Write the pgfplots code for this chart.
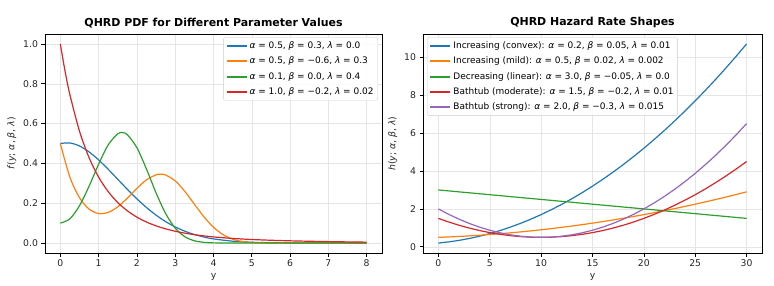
\documentclass[border=0pt]{standalone}
\usepackage{fontspec}
\setmainfont{DejaVu Sans}
\usepackage{pgfplots}
\pgfplotsset{compat=1.18}
\definecolor{C0}{HTML}{1F77B4}
\definecolor{C1}{HTML}{FF7F0E}
\definecolor{C2}{HTML}{2CA02C}
\definecolor{C3}{HTML}{D62728}
\definecolor{C4}{HTML}{9467BD}
\pgfplotsset{mystyle/.style={
  scale only axis,
  height=219bp,
  axis line style={line width=0.9bp, black},
  grid=major,
  grid style={line width=0.5bp, color=black!10},
  tick style={black, line width=0.7bp},
  tick align=outside,
  major tick length=3.5bp,
  xtick pos=left, ytick pos=left,
  ticklabel style={font=\fontsize{9.3}{11}\selectfont, text=black!85},
  /pgf/number format/assume math mode=true,
  label style={font=\fontsize{9.3}{11}\selectfont, text=black!85},
  title style={font=\bfseries\fontsize{11}{13}\selectfont, yshift=-3.5bp},
  legend cell align=left,
  legend style={font=\fontsize{9}{11}\selectfont, draw=black!20, rounded corners=2bp,
    fill=white, fill opacity=0.85, text opacity=1, draw opacity=1, inner sep=2.2bp, row sep=3bp},
  legend image code/.code={\draw[#1, line width=2bp, opacity=1] (0bp,0bp) -- (20bp,0bp);},
  every axis plot/.append style={line width=1.2bp},
}}
\newcommand{\gk}[1]{\textit{#1}}
\begin{document}
\begin{tikzpicture}
\useasboundingbox (0,0) rectangle (774bp,286bp);
\begin{axis}[mystyle,
  at={(45bp,33bp)}, anchor=south west,
  width=337bp,
  xmin=-0.4, xmax=8.4, ymin=-0.05, ymax=1.05,
  xtick={0,1,2,3,4,5,6,7,8},
  ytick={0,0.2,0.4,0.6,0.8,1.0},
  yticklabel style={/pgf/number format/fixed, /pgf/number format/fixed zerofill, /pgf/number format/precision=1},
  title={QHRD PDF for Different Parameter Values},
  xlabel={y},
  ylabel={\gk{f}(\gk{y}; \gk{α}, \gk{β}, \gk{λ})},
  legend style={at={(0.988,0.985)}, anchor=north east},
]
\addplot[C0, smooth] coordinates {(0,0.5)(0.25,0.5027)(0.5,0.4876)(0.75,0.4580)(1,0.4176)(1.25,0.3705)(1.5,0.3202)(1.75,0.2699)(2,0.2221)(2.25,0.1785)(2.5,0.1403)(2.75,0.1077)(3,0.0810)(3.25,0.0596)(3.5,0.0429)(3.75,0.0302)(4,0.0209)(4.5,0.0094)(5,0.0039)(5.5,0.0015)(6,0.0005)(7,0.00004)(8,0.0)};
\addlegendentry{\gk{α} = 0.5, \gk{β} = 0.3, \gk{λ} = 0.0}
\addplot[C1, smooth] coordinates {(0,0.5)(0.25,0.3311)(0.5,0.2280)(0.75,0.1706)(1,0.1482)(1.25,0.1539)(1.5,0.1820)(1.75,0.2254)(2,0.2744)(2.25,0.3174)(2.5,0.3427)(2.625,0.3458)(2.75,0.3417)(3,0.3124)(3.25,0.2599)(3.5,0.1954)(3.75,0.1319)(4,0.0792)(4.25,0.0421)(4.5,0.0196)(4.75,0.0079)(5,0.0028)(5.5,0.0002)(6,0)(7,0)(8,0)};
\addlegendentry{\gk{α} = 0.5, \gk{β} = −0.6, \gk{λ} = 0.3}
\addplot[C2, smooth] coordinates {(0,0.1)(0.25,0.1217)(0.5,0.1871)(0.75,0.2850)(1,0.3959)(1.25,0.4931)(1.5,0.5488)(1.625,0.5546)(1.75,0.5443)(2,0.4790)(2.25,0.3716)(2.5,0.2521)(2.75,0.1483)(3,0.0749)(3.25,0.0321)(3.5,0.0116)(3.75,0.0035)(4,0.0009)(4.5,0)(5,0)(6,0)(7,0)(8,0)};
\addlegendentry{\gk{α} = 0.1, \gk{β} = 0.0, \gk{λ} = 0.4}
\addplot[C3, smooth] coordinates {(0,1)(0.125,0.8620)(0.25,0.7454)(0.5,0.5623)(0.75,0.4292)(1,0.3312)(1.25,0.2583)(1.5,0.2035)(1.75,0.1620)(2,0.1302)(2.25,0.1056)(2.5,0.0864)(2.75,0.0713)(3,0.0593)(3.25,0.0498)(3.5,0.0421)(3.75,0.0359)(4,0.0308)(4.5,0.0231)(5,0.0178)(5.5,0.0140)(6,0.0112)(6.5,0.0090)(7,0.0072)(7.5,0.0058)(8,0.0045)};
\addlegendentry{\gk{α} = 1.0, \gk{β} = −0.2, \gk{λ} = 0.02}
\end{axis}
\begin{axis}[mystyle,
  at={(423bp,33bp)}, anchor=south west,
  width=339bp,
  xmin=-1.5, xmax=31.5, ymin=-0.325, ymax=11.225,
  xtick={0,5,10,15,20,25,30},
  ytick={0,2,4,6,8,10},
  title={QHRD Hazard Rate Shapes},
  xlabel={y},
  ylabel={\gk{h}(\gk{y}; \gk{α}, \gk{β}, \gk{λ})},
  legend style={at={(0.012,0.985)}, anchor=north west},
]
\addplot[C0] coordinates {(0,0.2)(1,0.26)(2,0.34)(3,0.44)(4,0.56)(5,0.7)(6,0.86)(7,1.04)(8,1.24)(9,1.46)(10,1.7)(11,1.96)(12,2.24)(13,2.54)(14,2.86)(15,3.2)(16,3.56)(17,3.94)(18,4.34)(19,4.76)(20,5.2)(21,5.66)(22,6.14)(23,6.64)(24,7.16)(25,7.7)(26,8.26)(27,8.84)(28,9.44)(29,10.06)(30,10.7)};
\addlegendentry{Increasing (convex): \gk{α} = 0.2, \gk{β} = 0.05, \gk{λ} = 0.01}
\addplot[C1] coordinates {(0,0.5)(1,0.522)(2,0.548)(3,0.578)(4,0.612)(5,0.65)(6,0.692)(7,0.738)(8,0.788)(9,0.842)(10,0.9)(11,0.962)(12,1.028)(13,1.098)(14,1.172)(15,1.25)(16,1.332)(17,1.418)(18,1.508)(19,1.602)(20,1.7)(21,1.802)(22,1.908)(23,2.018)(24,2.132)(25,2.25)(26,2.372)(27,2.498)(28,2.628)(29,2.762)(30,2.9)};
\addlegendentry{Increasing (mild): \gk{α} = 0.5, \gk{β} = 0.02, \gk{λ} = 0.002}
\addplot[C2] coordinates {(0,3)(10,2.5)(20,2)(30,1.5)};
\addlegendentry{Decreasing (linear): \gk{α} = 3.0, \gk{β} = −0.05, \gk{λ} = 0.0}
\addplot[C3] coordinates {(0,1.5)(1,1.31)(2,1.14)(3,0.99)(4,0.86)(5,0.75)(6,0.66)(7,0.59)(8,0.54)(9,0.51)(10,0.5)(11,0.51)(12,0.54)(13,0.59)(14,0.66)(15,0.75)(16,0.86)(17,0.99)(18,1.14)(19,1.31)(20,1.5)(21,1.71)(22,1.94)(23,2.19)(24,2.46)(25,2.75)(26,3.06)(27,3.39)(28,3.74)(29,4.11)(30,4.5)};
\addlegendentry{Bathtub (moderate): \gk{α} = 1.5, \gk{β} = −0.2, \gk{λ} = 0.01}
\addplot[C4] coordinates {(0,2)(1,1.715)(2,1.46)(3,1.235)(4,1.04)(5,0.875)(6,0.74)(7,0.635)(8,0.56)(9,0.515)(10,0.5)(11,0.515)(12,0.56)(13,0.635)(14,0.74)(15,0.875)(16,1.04)(17,1.235)(18,1.46)(19,1.715)(20,2.0)(21,2.315)(22,2.66)(23,3.035)(24,3.44)(25,3.875)(26,4.34)(27,4.835)(28,5.36)(29,5.915)(30,6.5)};
\addlegendentry{Bathtub (strong): \gk{α} = 2.0, \gk{β} = −0.3, \gk{λ} = 0.015}
\end{axis}
\end{tikzpicture}
\end{document}
